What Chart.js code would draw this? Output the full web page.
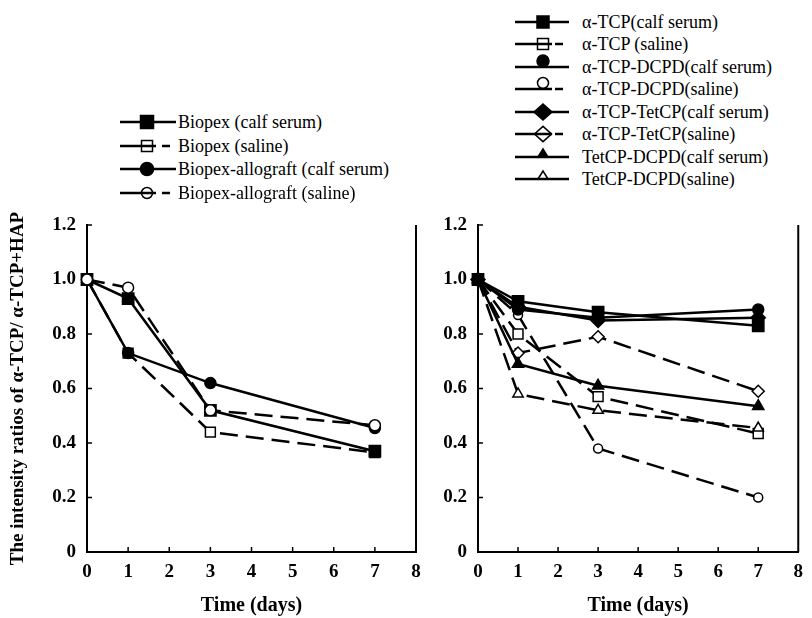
<!DOCTYPE html>
<html>
<head>
<meta charset="utf-8">
<script src="https://cdn.jsdelivr.net/npm/chart.js@4.4.0/dist/chart.umd.min.js"></script>
<style>
    body { margin: 0; background: #fff; width: 812px; height: 618px; position: relative; overflow: hidden;
           font-family: "Liberation Serif", "Times New Roman", serif; color: #000; }
    canvas { position: absolute; }
    .legend { position: absolute; left: 0; top: 0; }
    .row { position: absolute; height: 22px; line-height: 22px; font-size: 18px; white-space: nowrap; }
    .row svg { position: absolute; top: -4px; }
</style>
</head>
<body>
<canvas id="leftChart" width="440" height="418" style="left:0;top:200px"></canvas>
<canvas id="rightChart" width="372" height="418" style="left:440px;top:200px"></canvas>
<div class="legend" id="legendBox"></div>

<script>
const days = [0, 1, 3, 7];
const xTicks = [0, 1, 2, 3, 4, 5, 6, 7, 8];
const yTicks = [0, 0.2, 0.4, 0.6, 0.8, 1.0, 1.2];

// left panel
const leftLabels = ['Biopex (calf serum)', 'Biopex (saline)', 'Biopex-allograft (calf serum)', 'Biopex-allograft (saline)'];
const biopexSerum = [1.0, 0.93, 0.52, 0.37];
const biopexSaline = [1.0, 0.73, 0.44, 0.365];
const allograftSerum = [1.0, 0.73, 0.62, 0.455];
const allograftSaline = [1.0, 0.97, 0.52, 0.465];

// right panel
const rightLabels = ['α-TCP(calf serum)', 'α-TCP (saline)', 'α-TCP-DCPD(calf serum)', 'α-TCP-DCPD(saline)',
    'α-TCP-TetCP(calf serum)', 'α-TCP-TetCP(saline)', 'TetCP-DCPD(calf serum)', 'TetCP-DCPD(saline)'];
const tcpSerum = [1.0, 0.92, 0.88, 0.83];
const tcpSaline = [1.0, 0.80, 0.57, 0.435];
const dcpdSerum = [1.0, 0.89, 0.86, 0.89];
const dcpdSaline = [1.0, 0.87, 0.38, 0.20];
const tetcpSerum = [1.0, 0.90, 0.85, 0.86];
const tetcpSaline = [1.0, 0.73, 0.79, 0.59];
const tetDcpdSerum = [1.0, 0.69, 0.61, 0.535];
const tetDcpdSaline = [1.0, 0.58, 0.52, 0.455];

const serif = "'Liberation Serif', 'Times New Roman', serif";

function makeSet(label, values, shape, filled, dashed, radius) {
    return {
        label: label,
        data: values.map((v, i) => ({ x: days[i], y: v })),
        borderColor: '#000',
        borderWidth: 2.5,
        borderDash: dashed ? [18, 8] : [],
        pointStyle: shape,
        pointRadius: radius,
        pointBackgroundColor: filled ? '#000' : '#fff',
        pointBorderColor: '#000',
        pointBorderWidth: 1.5,
        tension: 0,
        fill: false,
        clip: false
    };
}

// small inward ticks + right frame line
const innerTicks = {
    id: 'innerTicks',
    beforeDatasetsDraw(chart) {
        const { ctx, scales: { x, y }, chartArea: a } = chart;
        ctx.save();
        ctx.strokeStyle = '#000';
        ctx.lineWidth = 1.5;
        ctx.beginPath();
        x.ticks.forEach(t => {
            if (t.value > 0 && t.value < 8) {
                const px = x.getPixelForValue(t.value);
                ctx.moveTo(px, a.bottom);
                ctx.lineTo(px, a.bottom - 5);
            }
        });
        y.ticks.forEach(t => {
            if (t.value > 0) {
                const py = y.getPixelForValue(t.value);
                ctx.moveTo(a.left, py);
                ctx.lineTo(a.left + 5, py);
            }
        });
        ctx.stroke();
        ctx.lineWidth = 2;
        ctx.beginPath();
        ctx.moveTo(a.right, a.bottom);
        ctx.lineTo(a.right, a.top);
        ctx.stroke();
        ctx.restore();
    }
};

function makeScales(yWidth, showTitle) {
    return {
        x: {
            type: 'linear', min: 0, max: 8,
            afterBuildTicks: s => { s.ticks = xTicks.map(v => ({ value: v })); },
            grid: { display: true, drawOnChartArea: false, drawTicks: false },
            border: { display: true, color: '#000', width: 2 },
            ticks: { color: '#000', padding: 9, maxRotation: 0, font: { family: serif, size: 19, weight: 'bold' } },
            title: { display: true, text: 'Time (days)', color: '#000', padding: 0,
                     font: { family: serif, size: 20, weight: 'bold' } },
            afterFit: s => { s.height = 66; }
        },
        y: {
            type: 'linear', min: 0, max: 1.2,
            afterBuildTicks: s => { s.ticks = yTicks.map(v => ({ value: v })); },
            grid: { display: true, drawOnChartArea: false, drawTicks: false },
            border: { display: true, color: '#000', width: 2 },
            ticks: { color: '#000', padding: 11, font: { family: serif, size: 19, weight: 'bold' },
                     callback: v => v === 0 ? '0' : v.toFixed(1) },
            title: { display: showTitle, text: 'The intensity ratios of α-TCP/ α-TCP+HAP', color: '#000',
                     padding: { top: 7, bottom: 0 }, font: { family: serif, size: 19, weight: 'bold' } },
            afterFit: s => { s.width = yWidth; }
        }
    };
}

function makeChart(id, datasets, yWidth, showTitle, padRight) {
    return new Chart(document.getElementById(id), {
        type: 'line',
        data: { datasets: datasets },
        options: {
            responsive: false,
            animation: false,
            layout: { autoPadding: false, padding: { top: 25, right: padRight, left: 0, bottom: 0 } },
            plugins: { legend: { display: false }, tooltip: { enabled: false } },
            scales: makeScales(yWidth, showTitle)
        },
        plugins: [innerTicks]
    });
}

// first dataset ends up on top
makeChart('leftChart', [
    makeSet(leftLabels[3], allograftSaline, 'circle', false, true, 5.5),
    makeSet(leftLabels[0], biopexSerum, 'rect', true, false, 8),
    makeSet(leftLabels[2], allograftSerum, 'circle', true, false, 5.5),
    makeSet(leftLabels[1], biopexSaline, 'rect', false, true, 7)
], 87, true, 24);

makeChart('rightChart', [
    makeSet(rightLabels[0], tcpSerum, 'rect', true, false, 8),
    makeSet(rightLabels[2], dcpdSerum, 'circle', true, false, 5.5),
    makeSet(rightLabels[4], tetcpSerum, 'rectRot', true, false, 7),
    makeSet(rightLabels[6], tetDcpdSerum, 'triangle', true, false, 6.5),
    makeSet(rightLabels[5], tetcpSaline, 'rectRot', false, true, 6),
    makeSet(rightLabels[7], tetDcpdSaline, 'triangle', false, true, 6),
    makeSet(rightLabels[1], tcpSaline, 'rect', false, true, 7),
    makeSet(rightLabels[3], dcpdSaline, 'circle', false, true, 4.5)
], 38, false, 5);

// legends: sample line + marker drawn as svg, text as html
function marker(shape, filled, cx, cy, s) {
    const fill = filled ? '#000' : '#fff';
    const st = `fill="${fill}" stroke="#000" stroke-width="1.5"`;
    if (shape === 'rect') return `<rect x="${cx - s / 2}" y="${cy - s / 2}" width="${s}" height="${s}" ${st}/>`;
    if (shape === 'circle') return `<circle cx="${cx}" cy="${cy}" r="${s / 2}" ${st}/>`;
    if (shape === 'diamond') return `<polygon points="${cx - s / 2},${cy} ${cx},${cy - s * 0.45} ${cx + s / 2},${cy} ${cx},${cy + s * 0.45}" ${st}/>`;
    return `<polygon points="${cx - s / 2},${cy} ${cx},${cy - s * 0.8} ${cx + s / 2},${cy}" ${st}/>`;
}

function addRow(box, x, cy, text, sampleW, mx, shape, filled, dashed, size, lift, textX) {
    const ly = 15;
    let lines;
    if (dashed) {
        lines = `<line x1="0" y1="${ly}" x2="${mx + 9}" y2="${ly}" stroke="#000" stroke-width="2.5"/>` +
                `<line x1="${sampleW - 14}" y1="${ly}" x2="${sampleW - 6}" y2="${ly}" stroke="#000" stroke-width="2.5"/>`;
    } else {
        lines = `<line x1="0" y1="${ly}" x2="${sampleW}" y2="${ly}" stroke="#000" stroke-width="2.5"/>`;
    }
    const mk = marker(shape, filled, mx, ly - lift, size);
    const svg = `<svg width="${sampleW}" height="30" style="left:0">${filled ? lines + mk : mk + lines}</svg>`;
    const row = document.createElement('div');
    row.className = 'row';
    row.style.left = x + 'px';
    row.style.top = (cy - 11) + 'px';
    row.innerHTML = svg + `<span style="position:absolute;left:${textX}px">${text}</span>`;
    box.appendChild(row);
}

const box = document.getElementById('legendBox');
const leftShapes = [['rect', true, false, 13], ['rect', false, true, 11], ['circle', true, false, 13], ['circle', false, true, 11]];
leftLabels.forEach((lab, i) => {
    const s = leftShapes[i];
    addRow(box, 120, 122 + i * 23.5, lab, 56, 27, s[0], s[1], s[2], s[3], 0, 58);
});

const rightShapes = [
    ['rect', true, false, 12, 0], ['rect', false, true, 11, 0],
    ['circle', true, false, 12, 6], ['circle', false, true, 11, 6],
    ['diamond', true, false, 18, 0], ['diamond', false, true, 17, 0],
    ['triangle', true, false, 10, 0], ['triangle', false, false, 10, 0]
];
rightLabels.forEach((lab, i) => {
    const s = rightShapes[i];
    addRow(box, 515, 21.7 + i * 22.47, lab, 54, 28, s[0], s[1], s[2], s[3], s[4], 67);
});
</script>
</body>
</html>
